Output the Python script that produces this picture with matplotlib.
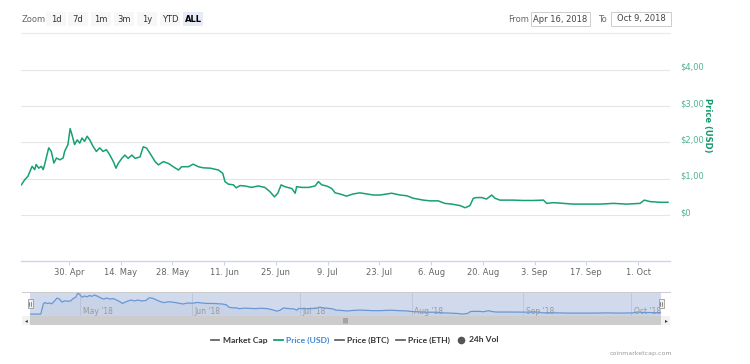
import numpy as np
import pandas as pd
import matplotlib
matplotlib.use("Agg")
import matplotlib.pyplot as plt
import matplotlib.dates as mdates
from matplotlib.patches import Rectangle
from matplotlib.lines import Line2D
from matplotlib.transforms import ScaledTranslation

# ---------------- data ----------------
start_date = "2018-04-17"
day_offsets = [0.1, 1.0, 1.9, 3.0, 3.7, 4.1, 4.8, 5.5, 6.0, 6.4, 7.5, 8.2, 8.9, 9.6, 10.5,
               11.4, 11.8, 12.7, 13.3, 13.8, 14.5, 15.2, 15.9, 16.5, 17.2, 17.9, 18.6,
               19.5, 20.4, 21.3, 22.2, 23.1, 24.0, 25.0, 25.7, 26.3, 27.3, 28.1, 29.0,
               30.0, 30.9, 32.2, 33.1, 34.0, 34.9, 36.3, 37.2, 38.5, 39.9, 41.2, 42.6,
               43.5, 45.3, 46.6, 48.0, 49.3, 51.2, 53.4, 54.6, 55.2, 56.1, 57.5, 58.2,
               59.3, 60.6, 62.4, 64.2, 66.0, 67.4, 68.6, 69.5, 70.4, 71.4, 73.3, 74.2,
               74.6, 76.0, 77.8, 79.6, 80.5, 81.4, 82.7, 84.1, 85.0, 86.3, 88.1, 89.9,
               91.7, 93.6, 95.3, 97.2, 100.3, 102.6, 104.4, 106.2, 108.9, 110.7, 112.9,
               114.7, 116.6, 118.8, 120.2, 121.5, 122.4, 123.3, 124.7, 126.0, 127.4,
               128.3, 129.6, 131.4, 133.2, 135.9, 138.6, 141.4, 142.3, 144.1, 146.8,
               149.5, 153.1, 156.7, 160.3, 163.9, 167.5, 168.7, 170.2, 172.9, 175.1]
price_usd = [0.83, 0.97, 1.07, 1.34, 1.25, 1.39, 1.29, 1.34, 1.25, 1.39, 1.85, 1.75, 1.43,
             1.57, 1.52, 1.57, 1.75, 1.94, 2.38, 2.21, 1.94, 2.07, 1.98, 2.12, 2.03, 2.17,
             2.07, 1.89, 1.75, 1.85, 1.75, 1.80, 1.66, 1.47, 1.29, 1.42, 1.56, 1.65, 1.56,
             1.65, 1.56, 1.60, 1.88, 1.84, 1.70, 1.47, 1.38, 1.47, 1.42, 1.33, 1.24, 1.33,
             1.33, 1.40, 1.33, 1.30, 1.29, 1.24, 1.15, 0.92, 0.85, 0.83, 0.75, 0.81, 0.80,
             0.76, 0.80, 0.76, 0.64, 0.50, 0.60, 0.83, 0.78, 0.73, 0.60, 0.78, 0.76, 0.76,
             0.80, 0.92, 0.83, 0.80, 0.73, 0.61, 0.58, 0.52, 0.58, 0.61, 0.58, 0.55, 0.55,
             0.60, 0.55, 0.53, 0.46, 0.41, 0.39, 0.39, 0.32, 0.30, 0.26, 0.20, 0.26, 0.46,
             0.48, 0.48, 0.44, 0.55, 0.46, 0.41, 0.41, 0.41, 0.40, 0.40, 0.41, 0.32, 0.34,
             0.32, 0.30, 0.30, 0.30, 0.32, 0.30, 0.32, 0.41, 0.37, 0.35, 0.35]
# navigator: leading flat segment before the series appears
nav_lead_days = [0.0, 3.0]
nav_lead_vals = [0.2, 0.2]

x_tick_dates = ["2018-04-30", "2018-05-14", "2018-05-28", "2018-06-11", "2018-06-25",
                "2018-07-09", "2018-07-23", "2018-08-06", "2018-08-20", "2018-09-03",
                "2018-09-17", "2018-10-01"]
x_tick_labels = ["30. Apr", "14. May", "28. May", "11. Jun", "25. Jun", "9. Jul",
                 "23. Jul", "6. Aug", "20. Aug", "3. Sep", "17. Sep", "1. Oct"]
y_ticks = [0, 1, 2, 3, 4]
y_tick_labels = ["$0", "$1,00", "$2,00", "$3,00", "$4,00"]
nav_months = ["2018-05-01", "2018-06-01", "2018-07-01", "2018-08-01", "2018-09-01", "2018-10-01"]
nav_month_labels = ["May '18", "Jun '18", "Jul '18", "Aug '18", "Sep '18", "Oct '18"]
zoom_buttons = ["1d", "7d", "1m", "3m", "1y", "YTD", "ALL"]
legend_items = ["Market Cap", "Price (USD)", "Price (BTC)", "Price (ETH)", "24h Vol"]

# ---------------- helpers ----------------
W, H = 750, 364
def fx(x): return x / W
def fy(y): return 1 - y / H

t0 = pd.Timestamp(start_date)
dates = [t0 + pd.Timedelta(days=d) for d in day_offsets]
xnum = mdates.date2num(dates)
x_start = mdates.date2num(t0)
x_end = x_start + (670 - 21) / 3.695

GREEN = "#17a075"
plt.rcParams["font.family"] = ["DejaVu Sans"]
fig = plt.figure(figsize=(7.5, 3.64), dpi=100)
fig.patch.set_facecolor("white")

# ---------------- main axes ----------------
ax = fig.add_axes([fx(21), fy(261), fx(670) - fx(21), (261 - 48) / H])
ax.plot(xnum, price_usd, color=GREEN, lw=1.1, solid_joinstyle="round")
ax.set_xlim(x_start, x_end)
ax.set_ylim(-1.267, 4.6)
for s in ["top", "left", "right"]:
    ax.spines[s].set_visible(False)
ax.spines["bottom"].set_color("#ccd6eb")
ax.spines["bottom"].set_linewidth(1.0)
ax.set_yticks(y_ticks)
ax.set_yticklabels(y_tick_labels)
ax.yaxis.tick_right()
ax.tick_params(axis="y", length=0, pad=7.2, labelsize=6, labelcolor="#4fb38f")
off = ScaledTranslation(0, 3.5 / 100, fig.dpi_scale_trans)
for lbl in ax.get_yticklabels():
    lbl.set_transform(lbl.get_transform() + off)
ax.grid(axis="y", color="#e6e6e6", lw=0.8)
ax.set_axisbelow(True)
ax.set_xticks(mdates.date2num(pd.to_datetime(x_tick_dates)))
ax.set_xticklabels(x_tick_labels)
ax.tick_params(axis="x", length=3, width=0.8, color="#ccd6eb", pad=2,
               labelsize=6, labelcolor="#666666")
fig.text(fx(708), fy(125), "Price (USD)", rotation=270, ha="center", va="center",
         fontsize=6, fontweight="bold", color="#16986c")

# ---------------- top toolbar ----------------
fig.text(fx(22), fy(19), "Zoom", fontsize=6, color="#666666", va="center")
btn_x = [46, 68, 91, 114, 137, 160, 183]
btn_w = 20
for i, b in enumerate(zoom_buttons):
    sel = (b == "ALL")
    fig.add_artist(Rectangle((fx(btn_x[i]), fy(26)), btn_w / W, 14 / H,
                             transform=fig.transFigure,
                             facecolor="#e6ebf5" if sel else "#f7f7f7", edgecolor="none"))
    fig.text(fx(btn_x[i] + btn_w / 2), fy(19), b, fontsize=6, ha="center", va="center",
             color="#000000" if sel else "#333333", fontweight="bold" if sel else "normal")
fig.add_artist(Line2D([fx(21), fx(670)], [fy(33), fy(33)], color="#ebebeb", lw=0.8,
                      transform=fig.transFigure))
fig.text(fx(508), fy(19), "From", fontsize=6, color="#666666", va="center")
fig.add_artist(Rectangle((fx(531), fy(25.7)), 59 / W, 13.4 / H, transform=fig.transFigure,
                         facecolor="white", edgecolor="#cccccc", lw=0.7))
fig.text(fx(560.5), fy(19), "Apr 16, 2018", fontsize=6, color="#444444", ha="center", va="center")
fig.text(fx(598), fy(19), "To", fontsize=6, color="#666666", va="center")
fig.add_artist(Rectangle((fx(611), fy(25.7)), 60 / W, 13.4 / H, transform=fig.transFigure,
                         facecolor="white", edgecolor="#cccccc", lw=0.7))
fig.text(fx(641), fy(19), "Oct 9, 2018", fontsize=6, color="#444444", ha="center", va="center")

# ---------------- navigator ----------------
fig.add_artist(Line2D([fx(22), fx(670)], [fy(291.5), fy(291.5)], color="#cccccc", lw=0.7,
                      transform=fig.transFigure))
nav = fig.add_axes([fx(30), fy(316), fx(661) - fx(30), 24 / H])
nav.set_facecolor("white")
nav_days = nav_lead_days + [d for d in day_offsets if d > 3.0]
nav_vals = nav_lead_vals + [p for d, p in zip(day_offsets, price_usd) if d > 3.0]
nav_x = x_start + np.array(nav_days)
nav.set_xlim(x_start, x_start + 175.3)
nav.set_ylim(0, 2.48)
for m in mdates.date2num(pd.to_datetime(nav_months)):
    nav.axvline(m, color="#e6e6e6", lw=0.7, zorder=0)
nav.fill_between(nav_x, nav_vals, 0, color="#4572a7", alpha=0.06, lw=0, zorder=1)
nav.plot(nav_x, nav_vals, color="#6a9fdc", lw=0.9, zorder=2)
nav.axvspan(x_start, x_start + 175.3, color="#6685c2", alpha=0.3, lw=0, zorder=3)
for m, lab in zip(mdates.date2num(pd.to_datetime(nav_months)), nav_month_labels):
    nav.text(m + 0.8, 0.45, lab, fontsize=5.5, color="#999999", va="center", zorder=4)
for s in nav.spines.values():
    s.set_visible(False)
nav.set_xticks([]); nav.set_yticks([])
for hx in [30, 661]:
    fig.add_artist(Rectangle((fx(hx - 2.5), fy(308)), 5 / W, 9 / H, transform=fig.transFigure,
                             facecolor="#f2f2f2", edgecolor="#999999", lw=0.6, zorder=5))
    for dx in [-0.7, 0.7]:
        fig.add_artist(Line2D([fx(hx + dx), fx(hx + dx)], [fy(306), fy(302)], color="#333333",
                              lw=0.4, transform=fig.transFigure, zorder=6))

# scrollbar
fig.add_artist(Rectangle((fx(22), fy(325)), 648 / W, 9 / H, transform=fig.transFigure,
                         facecolor="#f2f2f2", edgecolor="none"))
fig.add_artist(Rectangle((fx(30), fy(325)), 631 / W, 9 / H, transform=fig.transFigure,
                         facecolor="#cccccc", edgecolor="none"))
fig.text(fx(345), fy(320.5), "|||", fontsize=4, color="#333333", ha="center", va="center")
fig.text(fx(26), fy(320.5), "\u25c2", fontsize=4, color="#333333", ha="center", va="center")
fig.text(fx(666), fy(320.5), "\u25b8", fontsize=4, color="#333333", ha="center", va="center")

# ---------------- legend ----------------
leg_dash = [(211, 219, "#666666"), (274, 283, GREEN), (335, 344, "#666666"), (396, 405, "#666666")]
leg_text_x = [223, 286, 347, 408, 469]
leg_colors = ["#333333", "#3f86d4", "#333333", "#333333", "#333333"]
for (a, b, c) in leg_dash:
    fig.add_artist(Line2D([fx(a), fx(b)], [fy(340), fy(340)], color=c, lw=1.3,
                          transform=fig.transFigure))
fig.add_artist(Line2D([fx(461)], [fy(340)], marker="o", markersize=5.5, color="#555555",
                      markeredgewidth=0, linestyle="none", transform=fig.transFigure))
for tx, lab, c in zip(leg_text_x, legend_items, leg_colors):
    fig.text(fx(tx), fy(340), lab, fontsize=6.1, fontweight="bold", color=c, va="center",
             family=["Lato", "DejaVu Sans"])
fig.text(fx(672), fy(354), "coinmarketcap.com", fontsize=4.5, color="#999999",
         ha="right", va="center")

fig.savefig("out.png", dpi=100)
